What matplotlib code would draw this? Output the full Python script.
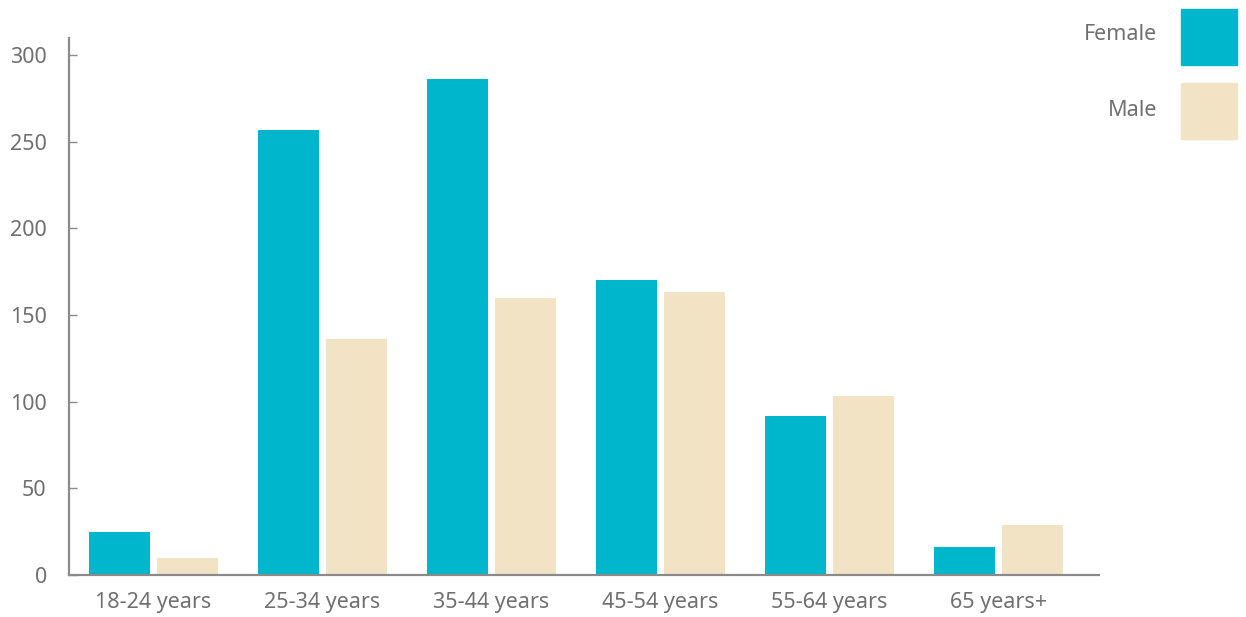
import matplotlib.pyplot as plt
import numpy as np
from matplotlib.patches import Rectangle

categories = ["18-24 years", "25-34 years", "35-44 years", "45-54 years", "55-64 years", "65 years+"]
female = [25, 257, 286, 170, 92, 16]
male = [10, 136, 160, 163, 103, 29]
yticks = [0, 50, 100, 150, 200, 250, 300]

TEAL = "#00b6cc"
BEIGE = "#f2e3c4"
GREY = "#707070"
AXIS = "#8a8a8a"

plt.rcParams["font.family"] = ["Noto Sans", "DejaVu Sans"]

W, H = 1246, 617
fig = plt.figure(figsize=(W / 100, H / 100), dpi=100)
# axes box in pixels: left 69, right 1099, top 38, bottom 575
ax = fig.add_axes([69 / W, 1 - 575 / H, (1099 - 69) / W, (575 - 38) / H])

x = np.arange(len(categories))
bw = 0.361
off = 0.201
ax.bar(x - off, female, width=bw, color=TEAL, zorder=2)
ax.bar(x + off, male, width=bw, color=BEIGE, zorder=2)

ax.set_xlim(-0.5, 5.595)
ax.set_ylim(0, 309.8)
ax.set_yticks(yticks)
ax.set_xticks(x)
ax.set_xticklabels(categories)

for s in ["top", "right"]:
    ax.spines[s].set_visible(False)
for s in ["left", "bottom"]:
    ax.spines[s].set_color(AXIS)
    ax.spines[s].set_linewidth(1.6)

ax.tick_params(axis="y", direction="in", length=6, width=1, color=AXIS,
               labelsize=15.5, labelcolor=GREY, pad=16)
ax.tick_params(axis="x", length=0, labelsize=15.5, labelcolor=GREY, pad=12)

# legend drawn by hand at the top right
for i, (lab, col) in enumerate([("Female", TEAL), ("Male", BEIGE)]):
    top = 9 + i * 74
    fig.patches.append(Rectangle((1181 / W, 1 - (top + 56) / H), 56 / W, 56 / H,
                                 transform=fig.transFigure, color=col))
    fig.text(1157 / W, 1 - (top + 25 + 3 * i) / H, lab, ha="right", va="center",
             fontsize=15.5, color=GREY)

fig.savefig("out.png", dpi=100)
